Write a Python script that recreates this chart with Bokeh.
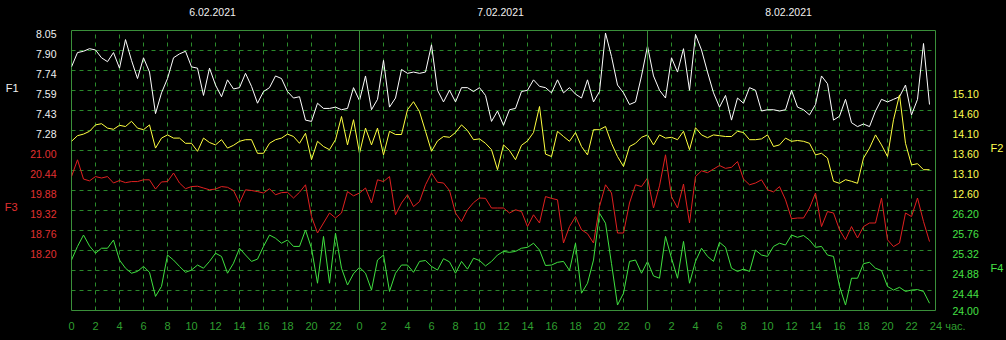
from bokeh.plotting import figure
from bokeh.models import Range1d, FixedTicker, LinearAxis, Span, GlobalInlineStyleSheet
from bokeh.embed import file_html
from bokeh.resources import INLINE

# ---------------- data ----------------
DATES = ["6.02.2021", "7.02.2021", "8.02.2021"]
HOUR_TICKS = list(range(0, 73, 2))
HOUR_LABELS = ["0", "2", "4", "6", "8", "10", "12", "14", "16", "18", "20", "22",
               "0", "2", "4", "6", "8", "10", "12", "14", "16", "18", "20", "22",
               "0", "2", "4", "6", "8", "10", "12", "14", "16", "18", "20", "22", "24"]
UNIT = "час."

F1_TICKS = ["8.05", "7.90", "7.74", "7.59", "7.43", "7.28"]
F2_TICKS = ["15.10", "14.60", "14.10", "13.60", "13.10", "12.60"]
F3_TICKS = ["21.00", "20.44", "19.88", "19.32", "18.76", "18.20"]
F4_TICKS = ["26.20", "25.76", "25.32", "24.88", "24.44", "24.00"]

F1 = [7.77, 7.88, 7.89, 7.91, 7.90, 7.84, 7.81, 7.88, 7.76, 7.98, 7.82, 7.68, 7.84, 7.73, 7.41, 7.57,
      7.68, 7.84, 7.87, 7.89, 7.77, 7.76, 7.55, 7.76, 7.63, 7.54, 7.67, 7.60, 7.61, 7.72, 7.62, 7.49,
      7.58, 7.61, 7.70, 7.68, 7.58, 7.53, 7.54, 7.36, 7.35, 7.49, 7.45, 7.45, 7.46, 7.44, 7.45, 7.61,
      7.51, 7.70, 7.44, 7.52, 7.82, 7.46, 7.53, 7.75, 7.72, 7.73, 7.72, 7.73, 7.94, 7.59, 7.50, 7.59,
      7.50, 7.61, 7.61, 7.58, 7.61, 7.55, 7.35, 7.43, 7.32, 7.44, 7.45, 7.58, 7.59, 7.67, 7.62, 7.61,
      7.57, 7.67, 7.57, 7.61, 7.56, 7.53, 7.67, 7.50, 7.58, 8.03, 7.85, 7.63, 7.57, 7.48, 7.50, 7.70,
      7.93, 7.70, 7.59, 7.53, 7.84, 7.73, 7.91, 7.59, 8.02, 7.90, 7.73, 7.57, 7.46, 7.55, 7.36, 7.53,
      7.49, 7.61, 7.59, 7.43, 7.44, 7.44, 7.43, 7.44, 7.59, 7.46, 7.44, 7.40, 7.48, 7.70, 7.64, 7.36,
      7.39, 7.52, 7.34, 7.31, 7.33, 7.31, 7.43, 7.52, 7.50, 7.52, 7.54, 7.63, 7.40, 7.52, 7.95, 7.48]

F2 = [13.83, 13.97, 14.01, 14.08, 14.24, 14.27, 14.16, 14.13, 14.23, 14.20, 14.33, 14.16, 14.12, 14.24, 13.66, 13.91,
      13.99, 13.91, 13.91, 13.78, 13.78, 13.58, 13.91, 13.80, 13.74, 13.87, 13.66, 13.73, 13.83, 13.87, 13.87, 13.53,
      13.53, 13.78, 13.87, 13.91, 14.01, 13.95, 13.78, 14.03, 13.37, 13.83, 13.70, 13.62, 13.87, 14.45, 13.74, 14.37,
      13.53, 14.16, 13.74, 14.16, 13.49, 14.08, 14.00, 14.00, 14.62, 14.82, 14.57, 14.08, 13.58, 13.84, 13.95, 13.93,
      14.05, 14.24, 14.10, 13.87, 13.89, 13.78, 13.62, 13.12, 13.74, 13.60, 13.37, 13.73, 13.84, 14.05, 14.70, 13.51,
      13.45, 14.08, 13.95, 13.83, 14.05, 13.70, 13.49, 14.12, 14.12, 14.20, 13.78, 13.45, 13.20, 13.70, 13.78, 13.93,
      13.99, 13.74, 13.99, 13.91, 13.93, 13.87, 14.08, 13.62, 14.17, 13.99, 13.92, 13.99, 13.97, 13.95, 13.95, 14.08,
      14.05, 13.87, 13.87, 13.89, 13.99, 13.70, 13.74, 13.91, 13.83, 13.85, 13.83, 13.78, 13.49, 13.53, 13.41, 12.83,
      12.78, 12.87, 12.83, 12.78, 13.41, 13.66, 13.99, 13.74, 13.45, 14.37, 14.99, 13.78, 13.24, 13.27, 13.12, 13.12]

F3 = [20.27, 20.74, 20.20, 20.15, 20.27, 20.23, 20.27, 20.09, 20.16, 20.10, 20.13, 20.13, 20.18, 20.18, 19.92, 20.12,
      20.13, 20.37, 20.09, 19.93, 19.99, 20.00, 19.95, 19.90, 19.92, 19.99, 19.97, 19.88, 19.53, 19.90, 19.88, 19.85,
      19.81, 19.93, 19.76, 19.82, 19.83, 19.67, 19.83, 20.04, 19.15, 18.69, 18.97, 19.25, 19.11, 19.25, 19.85, 19.73,
      19.81, 19.95, 19.53, 20.18, 20.13, 20.27, 19.20, 19.53, 19.76, 19.43, 19.57, 20.04, 20.37, 20.11, 20.09, 19.88,
      19.25, 19.01, 19.34, 19.54, 19.67, 19.66, 19.39, 19.39, 19.39, 19.25, 19.34, 19.29, 18.87, 19.20, 18.97, 19.71,
      19.66, 19.62, 18.41, 18.87, 19.15, 18.78, 18.67, 18.41, 19.43, 20.04, 19.81, 18.69, 18.69, 19.53, 20.04, 19.99,
      20.23, 19.39, 20.01, 20.88, 19.71, 19.39, 20.06, 18.97, 20.27, 20.43, 20.38, 20.48, 20.58, 20.50, 20.53, 20.69,
      20.20, 20.04, 20.09, 20.18, 19.90, 19.84, 19.99, 19.62, 19.09, 19.11, 19.11, 19.39, 19.81, 18.87, 19.29, 19.25,
      18.78, 18.50, 18.87, 18.55, 18.87, 18.97, 18.97, 19.67, 18.50, 18.31, 18.41, 19.25, 19.15, 19.67, 19.01, 18.45]

F4 = [25.11, 25.41, 25.66, 25.42, 25.26, 25.37, 25.37, 25.55, 25.11, 24.93, 24.82, 24.86, 24.97, 24.84, 24.31, 24.53,
      25.22, 25.11, 24.97, 24.84, 24.89, 25.00, 24.93, 25.08, 25.26, 25.19, 24.82, 25.04, 25.37, 25.22, 25.08, 25.13,
      25.41, 25.66, 25.59, 25.48, 25.55, 25.41, 25.41, 25.77, 25.37, 24.60, 25.63, 24.60, 25.70, 24.93, 24.56, 24.81,
      24.95, 24.82, 24.45, 25.11, 25.22, 24.42, 24.82, 25.00, 25.00, 24.84, 25.08, 25.10, 24.97, 24.89, 25.14, 25.07,
      24.82, 25.08, 24.91, 25.15, 25.10, 24.98, 25.08, 25.22, 25.30, 25.28, 25.30, 25.37, 25.39, 25.48, 25.33, 24.99,
      25.00, 25.06, 25.08, 24.88, 25.48, 24.38, 24.60, 25.11, 26.14, 25.92, 25.03, 24.12, 24.38, 25.08, 25.11, 24.82,
      25.08, 24.76, 24.71, 25.63, 25.15, 24.71, 25.52, 24.60, 25.08, 25.37, 25.19, 25.08, 25.50, 25.39, 24.93, 24.86,
      24.91, 24.86, 25.33, 25.22, 25.19, 25.41, 25.48, 25.44, 25.66, 25.61, 25.65, 25.55, 25.39, 25.41, 25.22, 25.19,
      24.53, 24.12, 24.71, 24.71, 25.03, 25.06, 24.93, 24.88, 24.53, 24.45, 24.51, 24.42, 24.45, 24.46, 24.42, 24.16]

STEP_H = 0.5
HOURS = [i * STEP_H for i in range(len(F1))]

# ---------------- style / layout ----------------
FONT = "Liberation Sans"
FS = "10.5px"
GRID_C = "#2b8a2b"
FRAME_C = "#3a8f3a"
HOUR_C = "#2f9f2f"
ROWS, ROW_PX = 14, 20
FRAME_T = 30
LABEL_DROP = 3.5 / ROW_PX     # tick labels sit slightly below their grid line

# (range name, values, tick labels, grid row of first tick, line colour, text colour, side, title, title y px)
series = [
    ("f1", F1, F1_TICKS, 0, "#ffffff", "#f0f0f0", "left", "F1", 87.5),
    ("f2", F2, F2_TICKS, 3, "#ffff40", "#ffff50", "right", "F2", 147),
    ("f3", F3, F3_TICKS, 6, "#e02020", "#e03030", "left", "F3", 206.7),
    ("f4", F4, F4_TICKS, 9, "#40e040", "#45e045", "right", "F4", 267),
]
# standoffs of the stacked side axes (tick labels / titles); each side's axes stack outward
STANDOFF = {"f1": (15, 9), "f3": (-23, -15), "f2": (17, 9), "f4": (-29, -16)}

p = figure(frame_width=864, frame_height=280,
           x_range=Range1d(0, 72), y_range=Range1d(0, ROWS),
           output_backend="svg", toolbar_location=None,
           background_fill_color="black", border_fill_color="black",
           min_border_left=71, min_border_right=71, min_border_top=FRAME_T, min_border_bottom=30,
           y_axis_location=None, x_axis_location="below")
p.stylesheets = [GlobalInlineStyleSheet(css="html, body { background-color: #000; }")]
p.outline_line_color = FRAME_C
p.outline_line_width = 1

# bottom hour axis ("24 час." at the end, padded so that "24" stays centred on its tick)
pad = "\u00a0" * 8
overrides = {t: l for t, l in zip(HOUR_TICKS, HOUR_LABELS)}
overrides[HOUR_TICKS[-1]] = pad + HOUR_LABELS[-1] + " " + UNIT
xa = p.xaxis[0]
xa.ticker = FixedTicker(ticks=HOUR_TICKS)
xa.major_label_overrides = overrides
xa.axis_line_color = None
xa.major_tick_line_color = None
xa.minor_tick_line_color = None
xa.major_tick_out = 0
xa.major_tick_in = 0
xa.major_label_standoff = 9
xa.major_label_text_color = HOUR_C
xa.major_label_text_font = FONT
xa.major_label_text_font_size = "11px"

# top date axis
date_pos = [11.75 + 24 * i for i in range(len(DATES))]
p.add_layout(LinearAxis(ticker=FixedTicker(ticks=date_pos),
                        major_label_overrides={t: d for t, d in zip(date_pos, DATES)},
                        axis_line_color=None, major_tick_line_color=None, minor_tick_line_color=None,
                        major_tick_in=0, major_tick_out=0, major_label_standoff=15,
                        major_label_text_color="#f0f0f0", major_label_text_font=FONT,
                        major_label_text_font_size=FS), "above")

# grid
p.xgrid.ticker = FixedTicker(ticks=[h for h in HOUR_TICKS if h % 24 != 0])
p.ygrid.ticker = FixedTicker(ticks=list(range(1, ROWS)))
for g in (p.xgrid, p.ygrid):
    g.grid_line_color = GRID_C
    g.grid_line_dash = "4 4"
    g.grid_line_width = 1
for d in (24, 48):
    p.add_layout(Span(location=d, dimension="height", line_color=FRAME_C, line_width=1))

# series ranges
geo, ranges = {}, {}
for name, vals, ticks, top_row, *_ in series:
    top, bot = float(ticks[0]), float(ticks[-1])
    step = (top - bot) / (len(ticks) - 1)
    end = top + top_row * step
    start = end - ROWS * step
    geo[name] = (start, end, step, top_row)
    ranges[name] = Range1d(start, end)
p.extra_y_ranges = ranges

for name, vals, ticks, top_row, lc, *_ in series:
    p.line(HOURS, vals, line_color=lc, line_width=1, y_range_name=name)


def side_axis(name, pos, texts, side, color, standoff, size):
    p.add_layout(LinearAxis(y_range_name=name, ticker=FixedTicker(ticks=pos),
                            major_label_overrides={t: s for t, s in zip(pos, texts)},
                            axis_line_color=None, major_tick_line_color=None,
                            minor_tick_line_color=None, major_tick_in=0, major_tick_out=0,
                            major_label_standoff=standoff, major_label_text_color=color,
                            major_label_text_font=FONT, major_label_text_font_size=size), side)


# tick-label axes first (nearest the frame), then the title axes
for name, vals, ticks, top_row, lc, tc, side, title, title_y in series:
    start, end, step, r0 = geo[name]
    pos = [max(end - (r0 + i + LABEL_DROP) * step, start) for i in range(len(ticks))]
    side_axis(name, pos, ticks, side, tc, STANDOFF[name][0], FS)
for name, vals, ticks, top_row, lc, tc, side, title, title_y in series:
    start, end, step, r0 = geo[name]
    side_axis(name, [end - (title_y - FRAME_T) / ROW_PX * step], [title], side, tc,
              STANDOFF[name][1], "11px")

open("out.html", "w").write(file_html(p, INLINE))
